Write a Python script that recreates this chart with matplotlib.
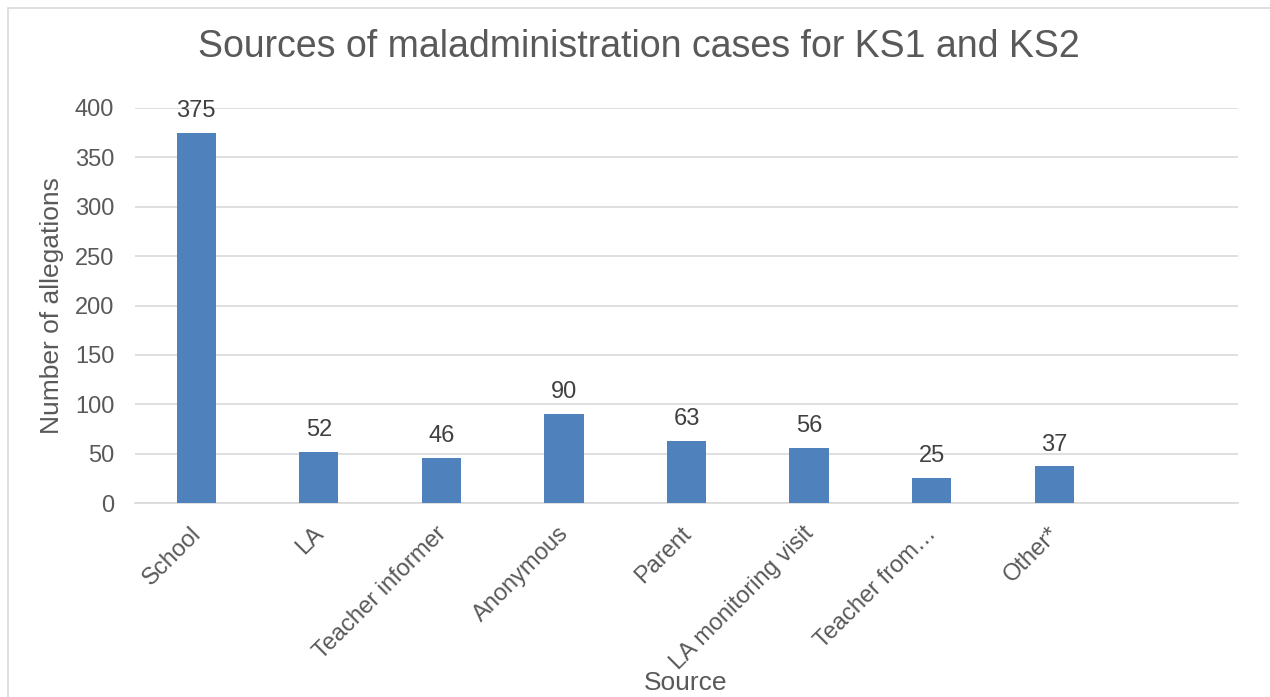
import matplotlib.pyplot as plt
from matplotlib.patches import Rectangle
from matplotlib.transforms import ScaledTranslation

# dati
fonti = ['School', 'LA', 'Teacher informer', 'Anonymous', 'Parent',
         'LA monitoring visit', 'Teacher from…', 'Other*', '']
casi = [375, 52, 46, 90, 63, 56, 25, 37, None]

plt.rcParams['font.family'] = ['Liberation Sans', 'DejaVu Sans']
grigio_testo = '#595959'
W, H = 1270, 697

fig = plt.figure(figsize=(W / 100, H / 100), dpi=100)
# bordo del grafico stile Excel
fig.patches.append(Rectangle((7.5 / W, -0.05), 1.1, 1 - 7.5 / H + 0.05,
                             transform=fig.transFigure, fill=False,
                             edgecolor='#D9D9D9', linewidth=1.2))

ax = fig.add_axes([135 / W, (H - 503) / H, (1238 - 135) / W, (503 - 108) / H])

x = list(range(len(fonti)))
valori = [v if v is not None else 0 for v in casi]
ax.bar(x, valori, width=0.32, color='#4F81BD', zorder=3)
for xi, v in zip(x, casi):
    if v is not None:
        ax.text(xi, v + 11, str(v), ha='center', va='bottom',
                fontsize=17, color='#404040')

ax.set_xlim(-0.5, len(fonti) - 0.5)
ax.set_ylim(0, 400)
ax.set_yticks(range(0, 401, 50))
ax.yaxis.grid(True, color='#D9D9D9', linewidth=1.2, zorder=0)
for lato in ['top', 'right', 'left']:
    ax.spines[lato].set_visible(False)
ax.spines['bottom'].set_color('#D9D9D9')
ax.spines['bottom'].set_linewidth(1.2)
ax.tick_params(axis='both', length=0, labelsize=17, colors=grigio_testo)
ax.tick_params(axis='y', pad=15)
ax.set_xticks(x)
ax.set_xticklabels(fonti, rotation=45, ha='right', rotation_mode='anchor')
ax.tick_params(axis='x', pad=14)
# sposto un po' a sinistra le etichette ruotate
spost = ScaledTranslation(-0.06, 0, fig.dpi_scale_trans)
for lbl in ax.get_xticklabels():
    lbl.set_transform(lbl.get_transform() + spost)

ax.set_ylabel('Number of allegations', fontsize=19, color=grigio_testo, labelpad=8)
fig.text(686 / W, 1 - 683 / H, 'Source', ha='center', va='center',
         fontsize=19, color=grigio_testo)
fig.text(639 / W, 1 - 47 / H, 'Sources of maladministration cases for KS1 and KS2',
         ha='center', va='center', fontsize=27, color=grigio_testo)

fig.savefig('out.png', dpi=100)
